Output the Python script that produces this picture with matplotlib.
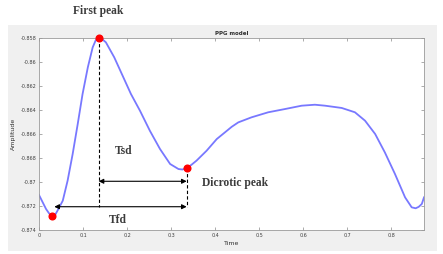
import matplotlib.pyplot as plt
from matplotlib.patches import Rectangle

# PPG waveform
TIME = [0.0, 0.016, 0.023, 0.030, 0.037, 0.042, 0.054, 0.065, 0.0765, 0.088,
        0.099, 0.111, 0.122, 0.129, 0.1356, 0.143, 0.152, 0.171, 0.190, 0.209,
        0.2295, 0.252, 0.275, 0.298, 0.317, 0.326, 0.3356, 0.346, 0.358, 0.381,
        0.404, 0.4227, 0.438, 0.453, 0.483, 0.521, 0.559, 0.597, 0.627, 0.650,
        0.688, 0.718, 0.741, 0.764, 0.786, 0.809, 0.832, 0.847, 0.856, 0.863,
        0.870, 0.875]
AMPLITUDE = [-0.87108, -0.87225, -0.87262, -0.87283, -0.87272, -0.87239, -0.87156,
             -0.86989, -0.86767, -0.86517, -0.86267, -0.86044, -0.85878, -0.85818,
             -0.85800, -0.85808, -0.85836, -0.85961, -0.86114, -0.86267, -0.86406,
             -0.86573, -0.86725, -0.86850, -0.86892, -0.86896, -0.86883, -0.86858,
             -0.86822, -0.86739, -0.86642, -0.86586, -0.86540, -0.86503, -0.86461,
             -0.86419, -0.86392, -0.86364, -0.86356, -0.86364, -0.86383, -0.86419,
             -0.86489, -0.86600, -0.86753, -0.86933, -0.87128, -0.87211, -0.87219,
             -0.87207, -0.87183, -0.87128]

# marked points: onset, first peak, dicrotic peak
MARK_T = [0.030, 0.1356, 0.3356]
MARK_A = [-0.87283, -0.85800, -0.86883]

X_TICKS = [0, 0.1, 0.2, 0.3, 0.4, 0.5, 0.6, 0.7, 0.8]
X_LABELS = ["0", "0.1", "0.2", "0.3", "0.4", "0.5", "0.6", "0.7", "0.8"]
Y_TICKS = [-0.874, -0.872, -0.870, -0.868, -0.866, -0.864, -0.862, -0.860, -0.858]
Y_LABELS = ["-0.874", "-0.872", "-0.87", "-0.868", "-0.866", "-0.864", "-0.862",
            "-0.86", "-0.858"]

TSD_Y = -0.86994
TFD_Y = -0.87206
TFD_START = 0.0348
DASH_BOTTOM = -0.87208

W, H = 443, 254
fig = plt.figure(figsize=(W / 100, H / 100), dpi=100)
fig.patch.set_facecolor("white")
fig.add_artist(Rectangle((8 / W, 1 - 251 / H), 429 / W, 226 / H,
                         transform=fig.transFigure, facecolor="#f0f0f0",
                         edgecolor="none", zorder=0))

ax = fig.add_axes([39 / W, 1 - 230 / H, 385 / W, 192 / H])
ax.set_facecolor("white")
ax.plot(TIME, AMPLITUDE, color="#7878ff", lw=1.3, zorder=2,
        solid_joinstyle="round")
ax.plot(MARK_T, MARK_A, "o", color="#ff0000", ms=4.8, zorder=5, clip_on=False)

# dashed verticals
ax.plot([MARK_T[1], MARK_T[1]], [MARK_A[1], DASH_BOTTOM], color="black",
        ls=(0, (3, 2)), lw=0.8, zorder=3)
ax.plot([MARK_T[2], MARK_T[2]], [MARK_A[2], DASH_BOTTOM], color="black",
        ls=(0, (3, 2)), lw=0.8, zorder=3)

arrow = dict(arrowstyle="<|-|>", color="black", lw=0.8, mutation_scale=7,
             shrinkA=0, shrinkB=0)
ax.annotate("", xy=(MARK_T[2], TSD_Y), xytext=(MARK_T[1], TSD_Y), arrowprops=arrow)
ax.annotate("", xy=(MARK_T[2], TFD_Y), xytext=(TFD_START, TFD_Y), arrowprops=arrow)

txt = dict(family="Liberation Serif", fontweight="bold", color="#3c3c3c", fontsize=8.3)
ax.text(0.192, -0.86745, "Tsd", ha="center", va="center", **txt)
ax.text(0.179, -0.87314, "Tfd", ha="center", va="center", **txt)
ax.text(0.37, -0.87008, "Dicrotic peak", ha="left", va="center", **txt)
fig.text(73 / W, 1 - 11 / H, "First peak", ha="left", va="center", **txt)

ax.set_xlim(0, 0.875)
ax.set_ylim(-0.874, -0.858)
ax.set_xticks(X_TICKS)
ax.set_xticklabels(X_LABELS)
ax.set_yticks(Y_TICKS)
ax.set_yticklabels(Y_LABELS)
ax.tick_params(direction="in", length=2, width=0.5, labelsize=3.5,
               colors="#8a8a8a", labelcolor="#404040", top=True, right=True, pad=2)
for s in ax.spines.values():
    s.set_color("#9a9a9a")
    s.set_linewidth(0.6)

ax.set_title("PPG model", fontsize=4, fontweight="bold", color="#303030", pad=2)
ax.set_xlabel("Time", fontsize=4.5, color="#303030", labelpad=2)
ax.set_ylabel("Amplitude", fontsize=4.5, color="#303030", labelpad=3)

fig.savefig("out.png", dpi=100, facecolor=fig.get_facecolor())
